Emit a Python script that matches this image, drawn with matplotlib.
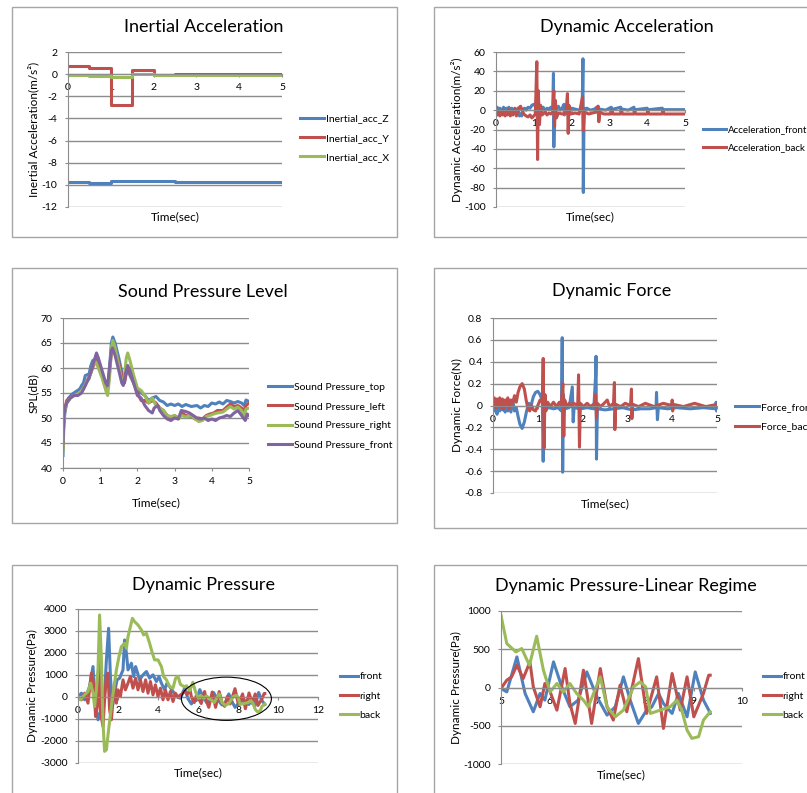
import matplotlib.pyplot as plt
from matplotlib.patches import Rectangle, Ellipse
from matplotlib.ticker import FuncFormatter

plt.rcParams['font.family'] = ['Lato', 'DejaVu Sans']
plt.rcParams['axes.unicode_minus'] = False

W, H = 807, 793
BLUE, RED, GREEN, PURPLE = '#4F81BD', '#C0504D', '#9BBB59', '#8064A2'
GRID = '#8c8c8c'

# --- data: inertial acceleration (step values, each held until next time) ---
inert_t = [0, 0.5, 1.0, 1.5, 2.0, 2.5, 5.0]
inert_z = [-9.7, -9.85, -9.65, -9.65, -9.68, -9.7, -9.7]
inert_y = [0.75, 0.55, -2.75, 0.4, -0.05, 0.05, 0.05]
inert_x = [-0.05, -0.15, -0.25, 0.0, -0.05, -0.05, -0.05]

# --- data: dynamic acceleration (time, value) ---
acc_front = [(0, 0), (0.03, 3), (0.06, -2), (0.1, 2), (0.13, -3), (0.17, 1), (0.2, 3), (0.24, -2),
             (0.27, 2), (0.3, -1), (0.34, 3), (0.38, -3), (0.42, 2), (0.45, -2), (0.5, 1), (0.54, -3),
             (0.58, 2), (0.62, -6), (0.65, -4), (0.68, -6), (0.72, 1), (0.76, 2), (0.8, 0), (0.85, 3),
             (0.9, 2), (0.95, 5), (1.0, 6), (1.04, 4), (1.08, 8), (1.1, -8), (1.11, 9), (1.13, 2),
             (1.18, 1), (1.25, 3), (1.3, -1), (1.35, 2), (1.4, 1), (1.45, 3), (1.5, 0), (1.52, 38),
             (1.53, -38), (1.55, 2), (1.6, 1), (1.65, 4), (1.7, 0), (1.75, 2), (1.8, 6), (1.81, -5),
             (1.85, 1), (1.9, 0), (2.0, 2), (2.1, 1), (2.2, 0), (2.28, 2), (2.3, 53), (2.31, -85),
             (2.33, 1), (2.4, 2), (2.5, 0), (2.6, 1), (2.7, 4), (2.71, -3), (2.75, 1), (2.9, 0),
             (3.05, 3), (3.06, -2), (3.1, 1), (3.3, 3), (3.31, -2), (3.35, 1), (3.5, 0), (3.65, 3),
             (3.66, -2), (3.7, 0.5), (4.0, 2), (4.01, -2), (4.05, 0.5), (4.4, 2), (4.41, -2),
             (4.45, 0.5), (4.7, 0.5), (5.0, 0.5)]
acc_back = [(0, -2), (0.03, -5), (0.06, -1), (0.1, -6), (0.13, -2), (0.17, -5), (0.2, 0), (0.24, -6),
            (0.27, -2), (0.3, -5), (0.34, 1), (0.38, -6), (0.42, -1), (0.45, -5), (0.5, 2), (0.54, -6),
            (0.58, 0), (0.62, 3), (0.65, 4), (0.68, 1), (0.72, -3), (0.76, -5), (0.8, -6), (0.85, -7),
            (0.9, -5), (0.95, -8), (1.0, -6), (1.04, -4), (1.08, 50), (1.1, -51), (1.12, 20),
            (1.15, -15), (1.18, 5), (1.22, -5), (1.3, -2), (1.35, -5), (1.4, -3), (1.45, -4), (1.5, -2),
            (1.53, 20), (1.55, -17), (1.57, 10), (1.6, -8), (1.65, -3), (1.75, -4), (1.85, -3),
            (1.89, 17), (1.91, -24), (1.93, 5), (1.97, -4), (2.1, -3), (2.2, -4), (2.29, 14),
            (2.31, -21), (2.34, -2), (2.45, -4), (2.55, -3), (2.65, -2), (2.7, 4), (2.72, -12),
            (2.75, -2), (2.85, -4), (3.05, -4), (3.06, 0), (3.1, -4), (3.3, -4), (3.31, 0), (3.35, -4),
            (3.65, -4), (3.66, -1), (3.7, -4), (4.0, -4), (4.01, -1), (4.05, -4), (4.4, -4),
            (4.41, -1), (4.45, -4), (5.0, -4)]

# --- data: sound pressure level (time, dB) ---
spl_top = [(0, 42.5), (0.02, 48), (0.05, 51), (0.1, 53), (0.15, 54), (0.25, 54.8), (0.35, 55.3),
           (0.45, 55.8), (0.5, 56.5), (0.55, 57), (0.6, 58.5), (0.7, 58.8), (0.75, 60.5), (0.8, 61.5),
           (0.88, 61.8), (0.95, 60.5), (1.05, 58.5), (1.15, 56.5), (1.2, 56), (1.25, 60), (1.3, 65),
           (1.34, 66.2), (1.4, 65), (1.5, 62), (1.6, 58.5), (1.65, 57), (1.7, 59), (1.75, 59.5),
           (1.8, 58.5), (1.9, 57), (2.0, 55.5), (2.1, 55), (2.2, 54.5), (2.3, 53.5), (2.4, 54),
           (2.5, 54.3), (2.6, 53.5), (2.7, 53.2), (2.8, 52.5), (2.9, 52.8), (3.0, 52.5), (3.1, 52.8),
           (3.2, 52.3), (3.3, 52.7), (3.45, 52.3), (3.6, 52.5), (3.7, 52), (3.8, 52.5), (3.9, 52.3),
           (4.0, 53), (4.1, 52.8), (4.2, 53.2), (4.3, 52.8), (4.4, 53.5), (4.5, 53.3), (4.6, 53),
           (4.7, 53.3), (4.8, 53), (4.87, 52.5), (4.92, 53.6), (5.0, 53.3)]
spl_left = [(0, 44), (0.02, 49.5), (0.05, 52), (0.1, 53.5), (0.2, 54.2), (0.3, 54.5), (0.45, 55),
            (0.55, 55.8), (0.65, 57.5), (0.75, 59), (0.82, 60.5), (0.9, 61.5), (0.97, 60.2),
            (1.05, 58.5), (1.15, 56.5), (1.2, 56), (1.25, 59), (1.3, 63), (1.34, 64.5), (1.4, 63.5),
            (1.5, 61), (1.6, 58), (1.65, 57), (1.7, 59), (1.75, 60), (1.8, 59), (1.9, 57), (2.0, 55),
            (2.1, 53.5), (2.2, 53.5), (2.3, 53), (2.4, 53.5), (2.5, 53), (2.6, 52), (2.7, 51.5),
            (2.8, 50.5), (2.9, 50), (3.0, 50.5), (3.1, 50), (3.2, 51), (3.3, 50.5), (3.45, 50.3),
            (3.55, 49.8), (3.65, 50), (3.75, 49.8), (3.85, 50.5), (3.95, 50.8), (4.05, 51),
            (4.15, 51.5), (4.3, 51.5), (4.4, 52.2), (4.5, 52.8), (4.6, 52.3), (4.7, 52.5), (4.8, 52),
            (4.87, 51.5), (4.92, 52.5), (5.0, 53)]
spl_right = [(0, 43.5), (0.02, 49), (0.05, 51.5), (0.1, 53), (0.2, 54), (0.3, 54.5), (0.45, 55),
             (0.55, 56), (0.65, 57.5), (0.7, 57.8), (0.8, 60.5), (0.88, 61.2), (0.95, 60), (1.05, 58),
             (1.15, 55.5), (1.2, 54.5), (1.25, 58), (1.3, 64), (1.34, 65.5), (1.4, 64), (1.5, 60.5),
             (1.58, 57.5), (1.65, 58), (1.7, 62), (1.74, 63), (1.8, 61.5), (1.9, 58.5), (2.0, 56),
             (2.1, 55.5), (2.2, 54.5), (2.3, 53), (2.4, 54), (2.5, 52.5), (2.6, 52), (2.7, 51.5),
             (2.8, 50.5), (2.9, 50.3), (3.0, 50.5), (3.1, 49.8), (3.2, 50.5), (3.3, 50.2),
             (3.45, 50.5), (3.55, 49.8), (3.65, 49.3), (3.75, 49.5), (3.85, 50.3), (3.95, 50.5),
             (4.05, 50.8), (4.15, 51), (4.3, 51.2), (4.4, 51.8), (4.5, 52.3), (4.6, 51.8), (4.7, 52.2),
             (4.8, 51.5), (4.87, 50.5), (4.92, 51.8), (5.0, 52)]
spl_front = [(0, 45), (0.02, 50), (0.05, 52), (0.1, 53), (0.2, 54), (0.3, 54.5), (0.4, 54.5),
             (0.5, 55), (0.6, 56.5), (0.7, 58), (0.8, 60.5), (0.9, 63), (0.95, 62), (1.05, 59.5),
             (1.15, 57), (1.2, 56.5), (1.25, 60), (1.3, 63.5), (1.33, 64), (1.4, 62.5), (1.5, 59.5),
             (1.58, 57), (1.62, 56.5), (1.7, 59.5), (1.74, 60.5), (1.8, 59.5), (1.9, 57), (2.0, 54.5),
             (2.1, 54), (2.2, 52.5), (2.3, 51.5), (2.4, 51), (2.45, 52), (2.55, 52.5), (2.6, 51.5),
             (2.7, 50.5), (2.8, 49.8), (2.9, 49.5), (3.0, 50), (3.1, 49.8), (3.18, 51.5), (3.3, 51.3),
             (3.4, 51), (3.5, 50.5), (3.6, 50), (3.7, 49.8), (3.8, 50), (3.9, 49.5), (4.0, 49.8),
             (4.1, 49.5), (4.2, 50), (4.3, 50.2), (4.4, 50.5), (4.5, 50.3), (4.6, 51), (4.7, 51.5),
             (4.8, 50.5), (4.9, 49.5), (4.95, 50.8), (5.0, 50.5)]

# --- data: dynamic force (time, N) ---
force_front = [(0, 0.0), (0.03, -0.05), (0.06, 0.04), (0.09, -0.08), (0.12, 0.03), (0.15, -0.05),
               (0.18, 0.05), (0.21, -0.04), (0.24, 0.04), (0.27, -0.06), (0.3, 0.05), (0.33, -0.05),
               (0.36, 0.03), (0.4, -0.06), (0.44, 0.05), (0.48, -0.05), (0.52, -0.02), (0.56, -0.1),
               (0.6, -0.17), (0.65, -0.21), (0.7, -0.15), (0.75, -0.05), (0.8, 0.02), (0.85, 0.0),
               (0.9, 0.08), (0.95, 0.12), (1.0, 0.13), (1.05, 0.1), (1.1, 0.05), (1.12, -0.51),
               (1.14, 0.08), (1.17, -0.03), (1.25, -0.02), (1.35, -0.03), (1.45, -0.02), (1.53, -0.05),
               (1.545, 0.62), (1.555, -0.61), (1.57, 0.1), (1.6, -0.03), (1.7, -0.02), (1.77, 0.17),
               (1.79, -0.15), (1.81, -0.02), (1.95, -0.03), (2.1, -0.02), (2.25, -0.03), (2.29, 0.27),
               (2.3, 0.45), (2.31, -0.49), (2.33, -0.03), (2.5, -0.04), (2.7, -0.03), (2.9, -0.02),
               (3.1, -0.04), (3.3, -0.03), (3.5, -0.03), (3.64, -0.02), (3.65, 0.12), (3.67, -0.13),
               (3.69, -0.02), (3.9, -0.03), (4.1, -0.02), (4.4, -0.03), (4.7, -0.02), (4.97, -0.03),
               (4.98, 0.03), (4.99, -0.05), (5.0, -0.02)]
force_back = [(0, 0.03), (0.03, 0.07), (0.06, -0.02), (0.09, 0.06), (0.12, 0.0), (0.15, 0.07),
              (0.18, -0.02), (0.21, 0.06), (0.24, -0.03), (0.27, 0.05), (0.3, 0.0), (0.33, 0.07),
              (0.36, -0.03), (0.4, 0.05), (0.44, 0.02), (0.48, 0.09), (0.52, 0.03), (0.56, 0.12),
              (0.6, 0.17), (0.65, 0.2), (0.7, 0.15), (0.74, 0.05), (0.78, -0.03), (0.82, -0.05),
              (0.86, 0.0), (0.9, -0.04), (0.95, -0.05), (1.0, 0.0), (1.05, 0.05), (1.1, 0.03),
              (1.12, 0.43), (1.14, -0.39), (1.16, 0.1), (1.18, -0.05), (1.22, 0.03), (1.28, -0.01),
              (1.35, 0.03), (1.42, -0.01), (1.48, 0.03), (1.52, 0.0), (1.56, 0.2), (1.58, -0.28),
              (1.6, 0.05), (1.65, -0.01), (1.7, 0.02), (1.75, -0.01), (1.8, 0.02), (1.89, 0.0),
              (1.91, 0.28), (1.93, -0.38), (1.95, 0.02), (2.02, -0.01), (2.1, 0.02), (2.18, -0.01),
              (2.27, 0.02), (2.29, 0.1), (2.31, -0.12), (2.33, 0.02), (2.4, -0.01), (2.48, 0.02),
              (2.55, 0.05), (2.6, -0.01), (2.69, 0.02), (2.71, 0.21), (2.72, -0.22), (2.74, 0.01),
              (2.85, -0.01), (2.95, 0.02), (3.07, 0.0), (3.09, 0.15), (3.1, -0.12), (3.12, 0.01),
              (3.25, -0.01), (3.4, 0.02), (3.6, -0.01), (3.8, 0.02), (3.99, 0.0), (4.0, 0.05),
              (4.01, -0.05), (4.03, 0.01), (4.25, -0.01), (4.5, 0.02), (4.75, -0.01), (5.0, 0.01)]

# --- data: dynamic pressure (time, Pa), 0-5 s and the 5-9.3 s "linear regime" ---
press_front_early = [(0, 0), (0.17, 175), (0.33, -128), (0.58, 477), (0.75, 1384), (0.88, -430),
                     (1.0, -1035), (1.12, -657), (1.2, -885), (1.33, 174), (1.42, 1687), (1.53, 3123),
                     (1.62, 931), (1.72, -430), (1.83, 174), (1.95, 780), (2.08, 855), (2.25, 1233),
                     (2.33, 2594), (2.42, 1989), (2.5, 1233), (2.67, 1536), (2.78, 931), (2.88, 1384),
                     (3.08, 780), (3.25, 1006), (3.42, 1157), (3.58, 855), (3.75, 1006), (3.92, 704),
                     (4.05, 931), (4.17, 628), (4.33, 326), (4.45, 628), (4.58, 477), (4.75, 250),
                     (4.92, 24)]
press_right_early = [(0, 0), (0.17, -128), (0.33, 174), (0.5, -280), (0.67, 1082), (0.78, 628),
                     (0.88, -885), (0.97, -430), (1.05, 2140), (1.13, -733), (1.25, -1338),
                     (1.33, -128), (1.42, 931), (1.5, 1082), (1.58, -582), (1.67, -1035), (1.75, -128),
                     (1.83, 628), (1.92, -280), (2.0, 326), (2.12, 24), (2.25, 780), (2.37, 326),
                     (2.5, 628), (2.62, 931), (2.75, 402), (2.88, 855), (3.0, 326), (3.12, 780),
                     (3.25, 250), (3.38, 780), (3.5, 174), (3.62, 704), (3.75, 98), (3.87, 553),
                     (4.0, 24), (4.12, 402), (4.25, -128), (4.37, 326), (4.5, -128), (4.62, 250),
                     (4.75, -204), (4.87, 174)]
press_back_early = [(0, 24), (0.12, -128), (0.33, 100), (0.5, 250), (0.63, 628), (0.75, 174),
                    (0.83, -430), (0.92, 326), (1.0, 1233), (1.08, 3728), (1.17, 1687), (1.25, -1187),
                    (1.33, -2471), (1.42, -2396), (1.53, -1489), (1.67, -430), (1.78, 326), (1.92, 1233),
                    (2.05, 1838), (2.17, 2291), (2.33, 2443), (2.42, 2216), (2.5, 2745), (2.62, 3199),
                    (2.72, 3577), (2.83, 3426), (3.0, 3274), (3.17, 3047), (3.28, 2821), (3.42, 2896),
                    (3.58, 2443), (3.72, 1989), (3.83, 1687), (4.0, 1687), (4.17, 1384), (4.28, 931),
                    (4.42, 780), (4.58, 477), (4.75, 402), (4.88, 855)]
press_front_late = [(5.0, -13), (5.12, -57), (5.33, 400), (5.5, -78), (5.67, -317), (5.81, -78),
                    (5.91, -165), (6.09, 335), (6.26, 9), (6.43, -252), (6.6, -165), (6.78, 204),
                    (6.99, -122), (7.2, -361), (7.37, -252), (7.54, 139), (7.68, -165), (7.85, -470),
                    (8.0, -317), (8.13, -252), (8.27, -78), (8.37, -209), (8.55, -339), (8.68, -78),
                    (8.86, -383), (9.03, 204), (9.2, -165), (9.31, -296), (9.34, -339)]
press_right_late = [(5.0, -13), (5.12, 96), (5.22, 139), (5.33, 291), (5.46, 117), (5.6, 335),
                    (5.67, 9), (5.81, -252), (5.91, 52), (6.02, -57), (6.16, -296), (6.33, 248),
                    (6.43, -209), (6.54, -470), (6.71, 226), (6.88, -470), (7.06, 248), (7.2, -252),
                    (7.33, -426), (7.47, 30), (7.61, -317), (7.85, 378), (8.02, -339), (8.23, 139),
                    (8.37, -535), (8.55, 183), (8.72, -296), (8.86, 139), (9.0, -383), (9.2, -78),
                    (9.31, 161), (9.34, 161)]
press_back_late = [(5.0, 943), (5.12, 574), (5.31, 465), (5.43, 509), (5.59, 291), (5.74, 670),
                   (5.88, 226), (6.02, -57), (6.16, 52), (6.29, -57), (6.43, 52), (6.57, -78),
                   (6.71, -165), (6.81, -252), (7.06, 139), (7.2, -252), (7.37, -383), (7.54, -296),
                   (7.75, 9), (7.89, 74), (8.0, 9), (8.1, -339), (8.3, -296), (8.51, -252),
                   (8.65, -165), (8.75, -296), (8.86, -557), (8.96, -665), (9.1, -643), (9.2, -426),
                   (9.34, -317)]

fig = plt.figure(figsize=(W / 100, H / 100), dpi=100)


def add_ax(l, t, r, b):
    return fig.add_axes([l / W, 1 - b / H, (r - l) / W, (b - t) / H])


def frame(l, t, r, b):
    fig.patches.append(Rectangle((l / W, 1 - b / H), (r - l) / W, (b - t) / H,
                                 transform=fig.transFigure, fill=False,
                                 edgecolor='#a6a6a6', lw=1))


def style(ax, xlim, xticks, ylim, yticks, cross=0):
    ax.set_xlim(xlim)
    ax.set_ylim(ylim)
    ax.set_xticks(xticks)
    ax.set_yticks(yticks)
    for s in ['top', 'right']:
        ax.spines[s].set_visible(False)
    ax.spines['left'].set_color(GRID)
    ax.spines['bottom'].set_color(GRID)
    ax.spines['bottom'].set_position(('data', cross))
    ax.yaxis.grid(True, color=GRID, lw=1)
    ax.set_axisbelow(True)
    ax.tick_params(axis='y', labelsize=7.5, length=2.5, color=GRID, pad=5)
    ax.tick_params(axis='x', labelsize=7.5, length=2.5, color=GRID, pad=4)


def texts(ax, title, tx, ty, ylabel, yx, xlabel, xy):
    fig.text(tx / W, 1 - ty / H, title, ha='center', va='center', fontsize=13)
    pos = ax.get_position()
    fig.text(yx / W, pos.y0 + pos.height / 2, ylabel, rotation=90,
             ha='center', va='center', fontsize=8.5)
    fig.text(pos.x0 + pos.width / 2, 1 - xy / H, xlabel, ha='center', va='center', fontsize=8.5)


def legend(ax, x, y, size=7.5, hl=2.3):
    ax.legend(loc='center left', bbox_to_anchor=(x / W, 1 - y / H),
              bbox_transform=fig.transFigure, frameon=False, fontsize=size,
              handlelength=hl, handletextpad=0.15, labelspacing=0.95,
              borderpad=0, borderaxespad=0)


def xy(pairs):
    return [p[0] for p in pairs], [p[1] for p in pairs]


LW = 2.2

# --- panel 1: Inertial Acceleration ---
frame(12, 7, 397, 237)
ax1 = add_ax(68, 52, 282, 207)
ax1.plot(inert_t, inert_z, drawstyle='steps-post', color=BLUE, lw=LW, label='Inertial_acc_Z')
ax1.plot(inert_t, inert_y, drawstyle='steps-post', color=RED, lw=LW, label='Inertial_acc_Y')
ax1.plot(inert_t, inert_x, drawstyle='steps-post', color=GREEN, lw=LW, label='Inertial_acc_X')
style(ax1, (0, 5), range(0, 6), (-12, 2), range(-12, 3, 2))
texts(ax1, 'Inertial Acceleration', 204, 27, 'Inertial Acceleration(m/s²)', 33, 'Time(sec)', 217)
legend(ax1, 300, 138)

# --- panel 2: Dynamic Acceleration ---
frame(434, 7, 830, 237)
ax2 = add_ax(496, 52, 685, 207)
ax2.plot(*xy(acc_front), color=BLUE, lw=LW, label='Acceleration_front')
ax2.plot(*xy(acc_back), color=RED, lw=LW, label='Acceleration_back')
style(ax2, (0, 5), range(0, 6), (-100, 60), range(-100, 61, 20))
texts(ax2, 'Dynamic Acceleration', 627, 27, 'Dynamic Acceleration(m/s²)', 457, 'Time(sec)', 217)
legend(ax2, 703, 139, size=7.0, hl=2.4)

# --- panel 3: Sound Pressure Level ---
frame(12, 268, 397, 523)
ax3 = add_ax(63, 318, 249, 468)
ax3.plot(*xy(spl_top), color=BLUE, lw=LW, label='Sound Pressure_top')
ax3.plot(*xy(spl_left), color=RED, lw=LW, label='Sound Pressure_left')
ax3.plot(*xy(spl_right), color=GREEN, lw=LW, label='Sound Pressure_right')
ax3.plot(*xy(spl_front), color=PURPLE, lw=LW, label='Sound Pressure_front')
style(ax3, (0, 5), range(0, 6), (40, 70), range(40, 71, 5), cross=40)
texts(ax3, 'Sound Pressure Level', 203, 292, 'SPL(dB)', 33, 'Time(sec)', 503)
legend(ax3, 268, 416)

# --- panel 4: Dynamic Force ---
frame(434, 268, 830, 528)
ax4 = add_ax(493, 318, 717, 493)
ax4.plot(*xy(force_front), color=BLUE, lw=LW, label='Force_front')
ax4.plot(*xy(force_back), color=RED, lw=LW, label='Force_back')
style(ax4, (0, 5), range(0, 6), (-0.8, 0.8), [-0.8, -0.6, -0.4, -0.2, 0, 0.2, 0.4, 0.6, 0.8])
ax4.yaxis.set_major_formatter(FuncFormatter(lambda v, p: '0' if abs(v) < 1e-9 else f'{v:.1f}'))
texts(ax4, 'Dynamic Force', 612, 291, 'Dynamic Force(N)', 457, 'Time(sec)', 504)
legend(ax4, 735, 417)

# --- panel 5: Dynamic Pressure ---
frame(12, 565, 397, 810)
ax5 = add_ax(78, 609, 318, 763)
ax5.plot(*xy(press_front_early + press_front_late), color=BLUE, lw=LW, label='front')
ax5.plot(*xy(press_right_early + press_right_late), color=RED, lw=LW, label='right')
ax5.plot(*xy(press_back_early + press_back_late), color=GREEN, lw=LW, label='back')
ax5.add_patch(Ellipse((7.42, -80), 4.5, 1965, fill=False, edgecolor='black', lw=0.8, zorder=5))
style(ax5, (0, 12), range(0, 13, 2), (-3000, 4000), range(-3000, 4001, 1000))
texts(ax5, 'Dynamic Pressure', 203, 585, 'Dynamic Pressure(Pa)', 32, 'Time(sec)', 773)
legend(ax5, 340, 696, hl=1.7)

# --- panel 6: Dynamic Pressure-Linear Regime ---
frame(434, 565, 830, 810)
ax6 = add_ax(501, 611, 742, 764)
ax6.plot(*xy(press_front_late), color=BLUE, lw=LW, label='front')
ax6.plot(*xy(press_right_late), color=RED, lw=LW, label='right')
ax6.plot(*xy(press_back_late), color=GREEN, lw=LW, label='back')
style(ax6, (5, 10), range(5, 11), (-1000, 1000), range(-1000, 1001, 500))
texts(ax6, 'Dynamic Pressure-Linear Regime', 626, 586, 'Dynamic Pressure(Pa)', 456, 'Time(sec)', 775)
legend(ax6, 763, 696, hl=1.7)

fig.savefig('out.png', dpi=100)
